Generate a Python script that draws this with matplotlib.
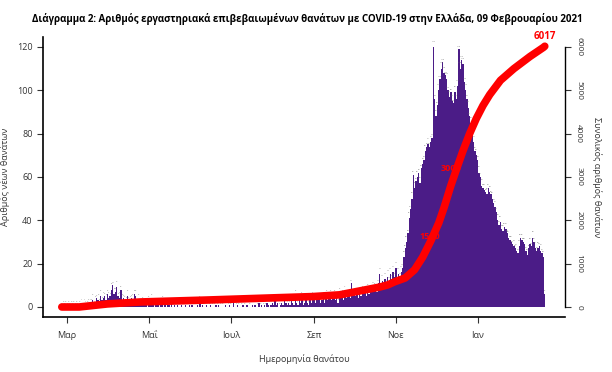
import numpy as np
import matplotlib
matplotlib.use("Agg")
import matplotlib.pyplot as plt

plt.rcParams['font.family'] = ['Open Sans', 'DejaVu Sans']

# daily deaths, one value per day from 26 Feb 2020
feb = [0, 0, 0, 0]
mar = [0] * 11 + [1, 0, 1, 1, 0, 2, 1, 2, 3, 1, 2, 4, 3, 2, 5, 3, 4, 5, 3, 6]
apr = [4, 5, 8, 10, 6, 7, 9, 5, 4, 8, 3, 4, 2, 3, 5, 3, 2, 4, 3, 6, 5, 2, 3, 2, 1, 3, 1, 2, 1, 0]
may = [2, 1, 3, 1, 0, 2, 1, 1, 0, 1, 2, 0, 1, 0, 1, 1, 0, 2, 0, 1, 0, 1, 0, 0, 1, 0, 0, 1, 0, 0, 1]
jun = [0, 1, 0, 0, 0, 1, 0, 2, 0, 1, 0, 0, 1, 0, 0, 1, 0, 0, 0, 1, 0, 1, 0, 0, 0, 0, 1, 0, 0, 1]
jul = [0, 0, 2, 0, 0, 1, 0, 0, 0, 1, 0, 0, 1, 0, 0, 0, 1, 0, 1, 0, 0, 2, 0, 1, 0, 1, 0, 2, 1, 0, 1]
aug = [2, 1, 3, 1, 2, 0, 1, 2, 1, 3, 2, 1, 2, 1, 3, 2, 1, 6, 2, 1, 3, 2, 4, 1, 2, 3, 2, 1, 3, 2, 4]
sep = [3, 2, 4, 3, 5, 2, 3, 4, 2, 5, 3, 4, 6, 3, 4, 5, 3, 4, 2, 6, 4, 5, 3, 7, 4, 5, 6, 4, 11, 5]
oct_ = [6, 5, 6, 4, 7, 5, 8, 6, 7, 5, 9, 6, 8, 7, 10, 8, 9, 7, 11, 15, 9, 12, 10, 13, 11, 14, 12, 15, 13, 16, 14]
nov = [18, 12, 15, 14, 16, 18, 23, 27, 30, 34, 41, 45, 50, 61, 55, 58, 60, 62, 57, 64,
       66, 68, 72, 74, 75, 74, 76, 78, 120, 96]
dec = [88, 93, 100, 105, 110, 113, 108, 107, 105, 100, 97, 99, 95, 94, 99, 96, 102, 119, 110, 114,
       112, 104, 100, 96, 92, 88, 85, 80, 76, 72, 70]
jan = [68, 62, 60, 56, 55, 54, 53, 52, 55, 53, 52, 50, 48, 46, 44, 40, 38, 39, 36, 35,
       37, 36, 34, 32, 31, 30, 29, 28, 27, 26, 25]
feb21 = [28, 32, 31, 30, 29, 26, 24, 27, 29, 28, 32, 30, 27, 26, 27, 28, 26, 25, 23, 6]

deaths = np.array(feb + mar + apr + may + jun + jul + aug + sep + oct_ + nov + dec + jan + feb21)
dates = np.datetime64('2020-02-26') + np.arange(len(deaths))

# cumulative total
cum_dates = ['2020-02-26', '2020-03-10', '2020-03-13', '2020-03-31', '2020-04-24', '2020-06-13',
             '2020-08-01', '2020-08-31', '2020-09-20', '2020-10-20', '2020-10-26', '2020-10-31',
             '2020-11-08', '2020-11-15', '2020-11-21', '2020-11-27', '2020-12-03', '2020-12-07',
             '2020-12-12', '2020-12-17', '2020-12-21', '2020-12-26', '2020-12-31', '2021-01-05',
             '2021-01-10', '2021-01-18', '2021-01-28', '2021-02-09', '2021-02-19', '2021-02-20']
cum_vals = [0, 0, 10, 70, 115, 160, 210, 240, 280, 460, 510, 580, 670, 860, 1150, 1520, 1940, 2300,
            2800, 3250, 3600, 4000, 4350, 4650, 4900, 5230, 5500, 5780, 5990, 6017]
cum_dates = np.array(cum_dates, dtype='datetime64[D]')

month_ticks = np.array(['2020-03-01', '2020-05-01', '2020-07-01', '2020-09-01', '2020-11-01', '2021-01-01'],
                       dtype='datetime64[D]')
month_labels = ['Μαρ', 'Μαΐ', 'Ιουλ', 'Σεπ', 'Νοε', 'Ιαν']

fig = plt.figure(figsize=(6.12, 3.72), dpi=100)
ax = fig.add_axes([0.0703, 0.148, 0.8527, 0.7525])

ax.bar(dates, deaths, width=1.0, color='#4b1c87', linewidth=0, zorder=2)
for k, (d, v) in enumerate(zip(dates, deaths)):
    # tiny value labels, alternate ones raised a little so neighbours don't collide
    off = 1.2 if k % 2 == 0 else 2.4
    ax.text(d, v + off, str(v), fontsize=1.6, color='#666666', ha='center', va='bottom')

ax.set_ylim(-4.6, 124.6)
ax.set_xlim(dates[0] - np.timedelta64(14, 'D'), dates[0] + np.timedelta64(375, 'D'))
ax.set_yticks([0, 20, 40, 60, 80, 100, 120])
ax.set_xticks(month_ticks)
ax.set_xticklabels(month_labels)
ax.tick_params(labelsize=6.5, colors='#333333', length=4, width=0.8)
ax.tick_params(axis='x', pad=6)
ax.spines['top'].set_visible(False)
ax.spines['right'].set_visible(False)
ax.spines['left'].set_linewidth(1.2)
ax.spines['bottom'].set_linewidth(1.2)
ax.set_ylabel('Αριθμός νέων θανάτων', fontsize=6.5, color='#333333', labelpad=5)
ax.set_xlabel('Ημερομηνία θανάτου', fontsize=6.5, color='#333333', labelpad=10)

ax2 = ax.twinx()
ax2.set_ylim(-4.6 * 50, 124.6 * 50)
ax2.text(np.datetime64('2020-11-26'), 1615, '1500', color='red', fontsize=6.5, fontweight='bold',
         ha='center', va='center', zorder=1)
ax2.text(np.datetime64('2020-12-12'), 3207, '3000', color='red', fontsize=6.5, fontweight='bold',
         ha='center', va='center', zorder=1)
ax2.plot(cum_dates, cum_vals, color='red', linewidth=5.5, solid_capstyle='round', zorder=3)
ax2.annotate(str(cum_vals[-1]), (cum_dates[-1], cum_vals[-1]), xytext=(0, 3), textcoords='offset points',
             color='red', fontsize=7, fontweight='bold', ha='center', va='bottom')
ax2.set_yticks([0, 1000, 2000, 3000, 4000, 5000, 6000])
ax2.set_yticklabels(['0', '1000', '2000', '3000', '4000', '5000', '6000'], rotation=-90, va='center')
ax2.tick_params(labelsize=6, colors='#333333', length=4, width=0.8)
ax2.spines['top'].set_visible(False)
ax2.spines['left'].set_visible(False)
ax2.spines['bottom'].set_visible(False)
ax2.spines['right'].set_bounds(0, 6000)
ax2.spines['right'].set_linewidth(1.0)
ax2.set_ylabel('Συνολικός αριθμός θανάτων', fontsize=6.5, color='#333333', rotation=-90, labelpad=14)

fig.suptitle('Διάγραμμα 2: Αριθμός εργαστηριακά επιβεβαιωμένων θανάτων με COVID-19 στην Ελλάδα, '
             '09 Φεβρουαρίου 2021', fontsize=7.0, fontweight='bold', x=0.502, y=0.965)

fig.savefig('out.png', dpi=100)
